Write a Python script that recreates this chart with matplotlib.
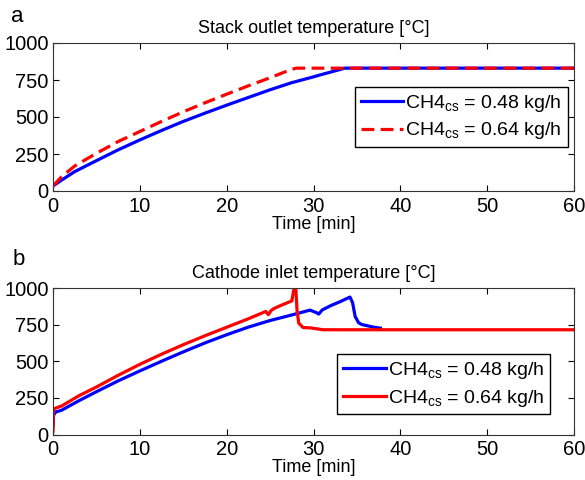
import numpy as np
import matplotlib
matplotlib.use("Agg")
import matplotlib.pyplot as plt

plt.rcParams['font.family'] = ['Liberation Sans', 'DejaVu Sans']
plt.rcParams['mathtext.fontset'] = 'custom'
plt.rcParams['mathtext.rm'] = 'Liberation Sans'
plt.rcParams['mathtext.it'] = 'Liberation Sans'

# (a) stack outlet temperature
a_blue_t = [0, 1, 2.5, 5, 7.5, 10, 12.5, 15, 17.5, 20, 22.5, 25, 27.5, 29.6,
            31, 32.5, 33.6, 60]
a_blue_v = [34, 74, 131, 205, 278, 345, 409, 470, 526, 580, 632, 684, 732, 765,
            788, 812, 830, 830]
a_red_t = [0, 1, 2.5, 5, 7.5, 10, 12.5, 15, 17.5, 20, 22.5, 25, 26.5, 27.5, 28, 60]
a_red_v = [34, 97, 169, 255, 334, 402, 470, 535, 596, 654, 711, 765, 800, 822,
           830, 830]

# (b) cathode inlet temperature
b_blue_t = [0, 0.05, 0.3, 1, 3, 5, 7.5, 10, 12.5, 15, 17.5, 20, 22.5, 25, 27.5,
            29.6, 30.4, 30.6, 31, 32, 33, 34.2, 34.5, 34.8, 35.2, 35.6, 36,
            36.5, 37, 37.7]
b_blue_v = [60, 130, 153, 166, 231, 292, 366, 434, 500, 564, 625, 681, 733, 778,
            816, 849, 830, 822, 850, 880, 905, 938, 900, 805, 762, 750, 745,
            738, 732, 726]
b_red_t = [0, 0.05, 0.3, 1, 3, 5, 7.5, 10, 12.5, 15, 17.5, 20, 22.5, 24.5,
           24.8, 25.1, 25.4, 26, 27.5, 27.8, 27.95, 28.1, 28.3, 28.8, 29.6,
           30.3, 31.1, 60]
b_red_v = [20, 170, 180, 195, 265, 324, 404, 479, 548, 613, 674, 732, 790, 840,
           818, 845, 858, 875, 912, 1010, 1010, 850, 760, 730, 728, 722, 715, 715]

labels = [r'CH4$_{\mathrm{cs}}$ = 0.48 kg/h', r'CH4$_{\mathrm{cs}}$ = 0.64 kg/h']
xticks = [0, 10, 20, 30, 40, 50, 60]
yticks = [0, 250, 500, 750, 1000]

W, H = 585, 480
fig = plt.figure(figsize=(W / 100, H / 100), dpi=100)
ax1 = fig.add_axes([53 / W, 1 - 191 / H, 521 / W, 148 / H])
ax2 = fig.add_axes([53 / W, 1 - 434.5 / H, 521 / W, 146.5 / H])

leg_kw = dict(borderaxespad=0, fontsize=14, handlelength=2.2, handletextpad=0.1,
              fancybox=False, edgecolor='black', framealpha=1,
              labelspacing=0.35, borderpad=0.3)

ax1.plot(a_blue_t, a_blue_v, color='#0000ff', lw=2.3, label=labels[0])
ax1.plot(a_red_t, a_red_v, color='#ff0000', lw=2.3, ls=(0, (4, 2)), label=labels[1])
ax1.set_title('Stack outlet temperature [°C]', fontsize=13, pad=7)
ax1.legend(loc='center right', bbox_to_anchor=(0.988, 0.5), **leg_kw)

ax2.plot(b_blue_t, b_blue_v, color='#0000ff', lw=2.3, label=labels[0])
ax2.plot(b_red_t, b_red_v, color='#ff0000', lw=2.3, label=labels[1])
ax2.set_title('Cathode inlet temperature [°C]', fontsize=13, pad=7)
ax2.legend(loc='lower right', bbox_to_anchor=(0.954, 0.137), **leg_kw)

for ax in (ax1, ax2):
    ax.set_xlim(0, 60)
    ax.set_ylim(0, 1000)
    ax.set_xticks(xticks)
    ax.set_yticks(yticks)
    ax.tick_params(direction='in', top=True, right=True, length=4,
                   labelsize=14.5)
    ax.tick_params(axis='x', pad=4)
    ax.tick_params(axis='y', pad=3)
    ax.set_xlabel('Time [min]', fontsize=13, labelpad=0)
    for s in ax.spines.values():
        s.set_color('#333333')

fig.text(0.018, 0.955, 'a', fontsize=16)
fig.text(0.022, 0.448, 'b', fontsize=16)

fig.savefig('out.png', dpi=100)
